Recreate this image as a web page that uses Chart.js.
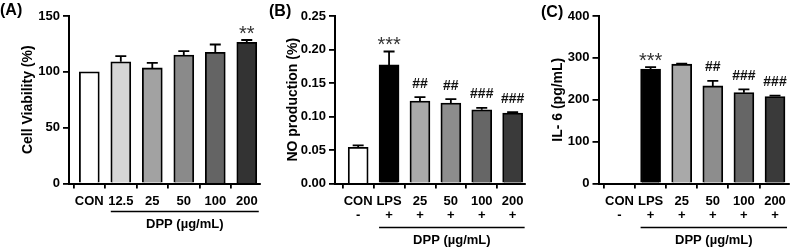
<!DOCTYPE html>
<html>
<head>
<meta charset="utf-8">
<script src="https://cdn.jsdelivr.net/npm/chart.js@4.4.1/dist/chart.umd.min.js"></script>
<style>
  html, body { margin: 0; padding: 0; background: #fff; width: 800px; height: 248px; overflow: hidden; }
  .panel { position: absolute; top: 0; height: 248px; }
  .plabel { position: absolute; font: bold 16px 'Liberation Sans', Arial, sans-serif; color: #000; line-height: 16px; }
</style>
</head>
<body>
<div class="panel" style="left:0;width:265px"><canvas id="cA" width="265" height="248"></canvas></div>
<div class="panel" style="left:265px;width:265px"><canvas id="cB" width="265" height="248"></canvas></div>
<div class="panel" style="left:530px;width:270px"><canvas id="cC" width="270" height="248"></canvas></div>
<div class="plabel" style="left:0;top:2px">(A)</div>
<div class="plabel" style="left:269px;top:3px">(B)</div>
<div class="plabel" style="left:541px;top:4px">(C)</div>
<script>
// ---------- data ----------
const viabilityCategories = ['CON', '12.5', '25', '50', '100', '200'];
const viabilityValues = [100, 109, 103.5, 115, 117.5, 126.5];
const viabilityErrors = [0, 5, 4.5, 3.5, 7, 2];
const viabilityMarks = ['', '', '', '', '', '**'];
const viabilityTicks = [0, 50, 100, 150];

const lpsCategories = ['CON', 'LPS', '25', '50', '100', '200'];
const lpsSigns = ['-', '+', '+', '+', '+', '+'];

const noValues = [0.054, 0.177, 0.123, 0.120, 0.110, 0.105];
const noErrors = [0.003, 0.020, 0.006, 0.006, 0.003, 0.0015];
const noMarks = ['', '***', '##', '##', '###', '###'];
const noTicks = [0, 0.05, 0.10, 0.15, 0.20, 0.25];

const il6Values = [0, 273, 285, 233, 217, 207.5];
const il6Errors = [0, 5, 1, 12, 8, 2.5];
const il6Marks = ['', '***', '', '##', '###', '###'];
const il6Ticks = [0, 100, 200, 300, 400];

const groupLabel = 'DPP (µg/mL)';

// ---------- styles ----------
const FONT = "'Liberation Sans', Arial, sans-serif";
const coloursA = ['#ffffff', '#d6d6d6', '#a2a2a2', '#8a8a8a', '#646464', '#333333'];
const coloursBC = ['#ffffff', '#000000', '#a9a9a9', '#8d8d8d', '#666666', '#3a3a3a'];

const extrasPlugin = {
  id: 'extras',
  afterDatasetsDraw(chart) {
    const p = chart.options.plugins.extras;
    const { ctx } = chart;
    const x = chart.scales.x, y = chart.scales.y;
    ctx.save();
    ctx.strokeStyle = '#000';
    ctx.lineWidth = 1.8;
    // error bars (upper only)
    p.values.forEach((v, i) => {
      const e = p.errors[i];
      if (!e) return;
      const cx = x.getPixelForValue(i);
      const y0 = y.getPixelForValue(v);
      const y1 = y.getPixelForValue(v + e);
      ctx.beginPath();
      ctx.moveTo(cx, y0); ctx.lineTo(cx, y1);
      ctx.moveTo(cx - 5.5, y1); ctx.lineTo(cx + 5.5, y1);
      ctx.stroke();
    });
    // significance marks
    ctx.textAlign = 'center';
    ctx.textBaseline = 'alphabetic';
    p.marks.forEach((m, i) => {
      if (!m) return;
      const cx = x.getPixelForValue(i);
      const top = y.getPixelForValue(p.values[i] + p.errors[i]);
      if (m.indexOf('*') >= 0) {
        ctx.font = '20px ' + FONT;
        ctx.fillStyle = '#333';
        ctx.fillText(m, cx, top - 0.5);
      } else {
        ctx.font = 'bold 14px ' + FONT;
        ctx.fillStyle = '#111';
        ctx.fillText(m, cx, top - 9.5);
      }
    });
    // group line + label
    const x0 = x.getPixelForValue(1) - 10;
    const x1 = x.getPixelForValue(5) + 12;
    ctx.lineWidth = 1.5;
    ctx.beginPath();
    ctx.moveTo(x0, p.lineY); ctx.lineTo(x1, p.lineY);
    ctx.stroke();
    ctx.font = 'bold 13px ' + FONT;
    ctx.fillStyle = '#000';
    ctx.textBaseline = 'middle';
    ctx.fillText(groupLabel, (x0 + x1) / 2, p.lineY + 12.5);
    ctx.restore();
  }
};

function makePanel(id, cfg) {
  const canvas = document.getElementById(id);
  const W = canvas.width, H = canvas.height;
  new Chart(canvas, {
    type: 'bar',
    data: {
      datasets: [{
        data: cfg.values.map((v, i) => ({ x: i, y: v })),
        backgroundColor: cfg.colours,
        borderColor: '#000',
        borderWidth: 1.8,
        barThickness: 20
      }]
    },
    options: {
      responsive: false,
      animation: false,
      devicePixelRatio: 1,
      layout: { padding: { left: 0, right: W - cfg.right, top: 16, bottom: 0 } },
      plugins: {
        legend: { display: false },
        tooltip: { enabled: false },
        extras: { values: cfg.values, errors: cfg.errors, marks: cfg.marks, lineY: cfg.lineY }
      },
      scales: {
        x: {
          type: 'linear',
          min: cfg.xMin, max: cfg.xMax,
          offset: false,
          afterFit: s => { s.height = H - 183.5; },
          border: { display: true, color: '#000', width: 2 },
          grid: { display: true, drawOnChartArea: false, drawTicks: true, tickLength: 5, color: '#000', lineWidth: 1.8 },
          ticks: {
            stepSize: 1, includeBounds: false, autoSkip: false, maxRotation: 0, minRotation: 0,
            padding: 6, color: '#000',
            font: { family: FONT, size: 13, weight: 'bold', lineHeight: 1.08 },
            callback: v => {
              const i = Math.round(v);
              if (Math.abs(v - i) > 1e-6 || i < 0 || i >= cfg.categories.length) return '';
              return cfg.signs ? [cfg.categories[i], cfg.signs[i]] : cfg.categories[i];
            }
          }
        },
        y: {
          min: cfg.ticks[0], max: cfg.ticks[cfg.ticks.length - 1],
          afterFit: s => { s.width = cfg.left; },
          afterBuildTicks: s => { s.ticks = cfg.ticks.map(v => ({ value: v })); },
          border: { display: true, color: '#000', width: 2 },
          grid: { display: true, drawOnChartArea: false, drawTicks: true, tickLength: 6, color: '#000', lineWidth: 1.8 },
          ticks: {
            padding: 3, color: '#000',
            font: { family: FONT, size: 13, weight: 'bold' },
            callback: v => cfg.decimals ? Number(v).toFixed(cfg.decimals) : String(v)
          },
          title: {
            display: true, text: cfg.title, color: '#000',
            font: { family: FONT, size: 14, weight: 'bold', lineHeight: 1.2 },
            padding: { top: 20, bottom: 0 }
          }
        }
      }
    },
    plugins: [extrasPlugin]
  });
}

makePanel('cA', {
  categories: viabilityCategories, signs: null,
  values: viabilityValues, errors: viabilityErrors, marks: viabilityMarks, ticks: viabilityTicks,
  colours: coloursA, title: 'Cell Viability (%)', decimals: 0,
  left: 69, right: 260, xMin: -0.645, xMax: 5.42, lineY: 211.5
});
makePanel('cB', {
  categories: lpsCategories, signs: lpsSigns,
  values: noValues, errors: noErrors, marks: noMarks, ticks: noTicks,
  colours: coloursBC, title: 'NO production (%)', decimals: 2,
  left: 70, right: 260, xMin: -0.75, xMax: 5.4, lineY: 227.5
});
makePanel('cC', {
  categories: lpsCategories, signs: lpsSigns,
  values: il6Values, errors: il6Errors, marks: il6Marks, ticks: il6Ticks,
  colours: coloursBC, title: 'IL- 6 (pg/mL)', decimals: 0,
  left: 68.5, right: 259, xMin: -0.675, xMax: 5.45, lineY: 227.5
});
</script>
</body>
</html>
